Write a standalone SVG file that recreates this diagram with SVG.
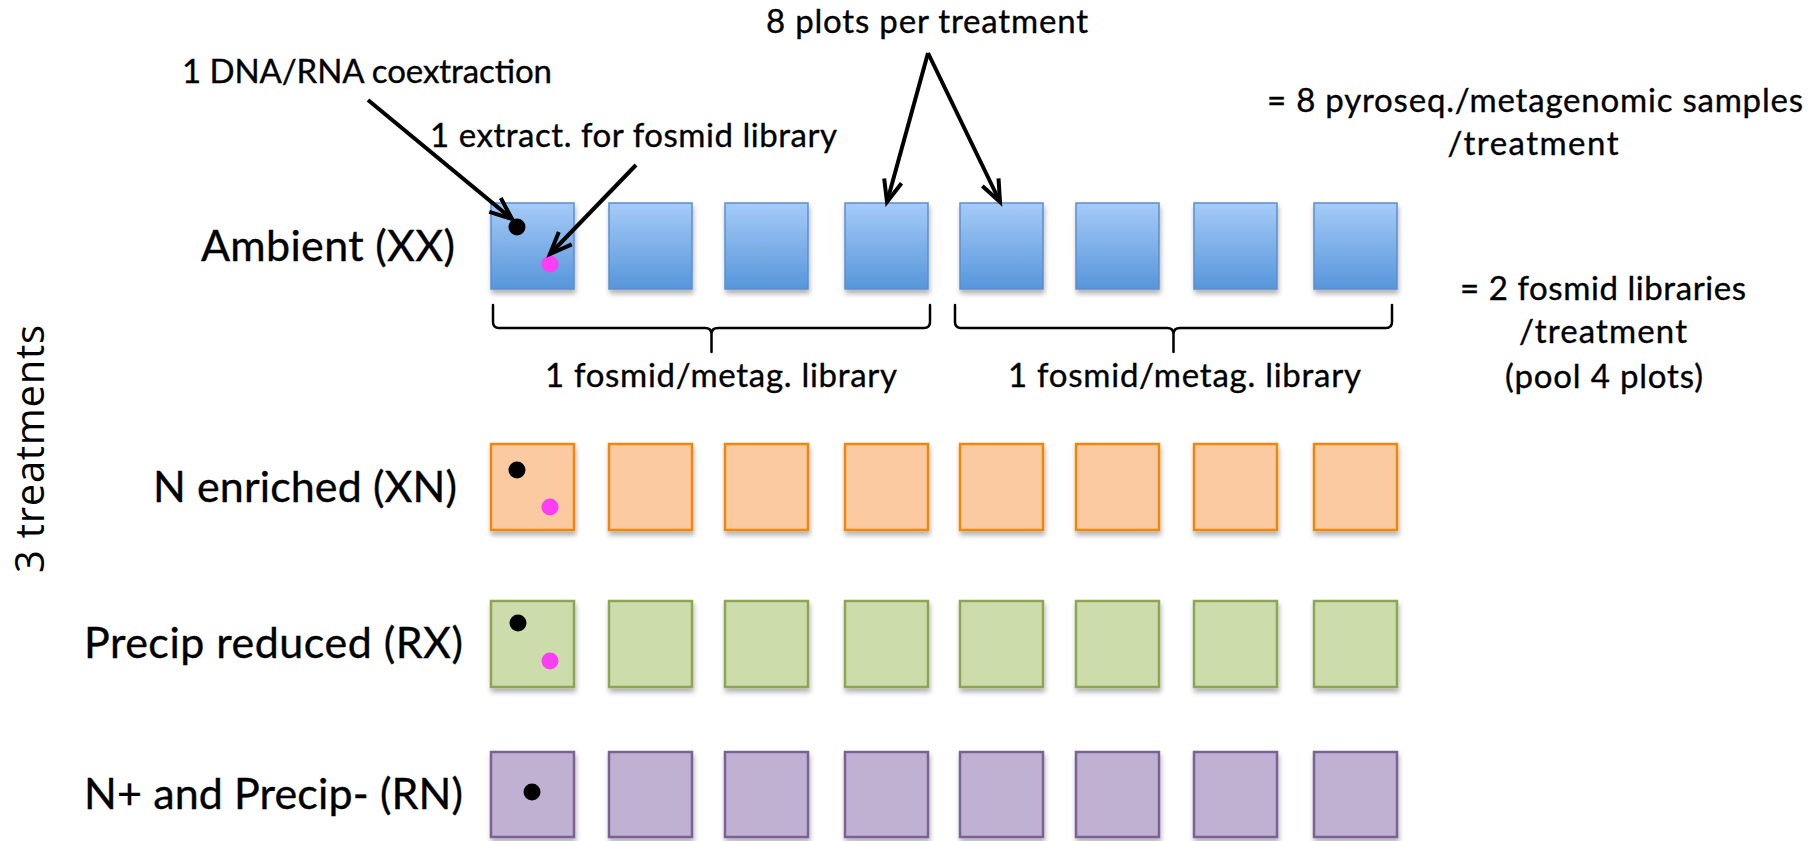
<svg xmlns="http://www.w3.org/2000/svg" width="1816" height="841" viewBox="0 0 1816 841">
<defs>
<style>
text{font-family:Lato,"Liberation Sans",sans-serif;fill:#000;stroke:#000;stroke-width:0.35}
.ann{font-size:33px}
.row{font-size:43px}
.side{font-family:"Open Sans","Liberation Sans",sans-serif;font-size:40px;stroke-width:0}
.box{filter:url(#sh)}
.amb{fill:url(#gb);stroke:#5b8ed0;stroke-width:1.5}
.xn{fill:#fbcaa0;stroke:#f0860e;stroke-width:2.5}
.rx{fill:#cddcab;stroke:#8ca654;stroke-width:2.5}
.rn{fill:#c0b0d2;stroke:#7a6295;stroke-width:2.5}
.arr{fill:none;stroke:#000;stroke-width:4;marker-end:url(#ah)}
.brace{fill:none;stroke:#000;stroke-width:2.5;stroke-linecap:round}
.bd{fill:#000}
.pd{fill:#fd3ff3}
</style>
<linearGradient id="gb" x1="0" y1="0" x2="0" y2="1">
<stop offset="0" stop-color="#a6cbf8"/>
<stop offset="1" stop-color="#5696da"/>
</linearGradient>
<filter id="sh" x="-20%" y="-20%" width="140%" height="150%">
<feDropShadow dx="1" dy="4" stdDeviation="2.5" flood-color="#000" flood-opacity="0.3"/>
</filter>
<marker id="ah" markerUnits="userSpaceOnUse" viewBox="-28 -14 32 28" refX="0" refY="0" markerWidth="32" markerHeight="28" orient="auto" overflow="visible">
<path d="M-22,-9 L0,0 L-22,9" fill="none" stroke="#000" stroke-width="4" stroke-linejoin="miter"/>
</marker>
</defs>
<rect width="1816" height="841" fill="#fff"/>

<g id="label-side">
<text class="side" transform="translate(44,449) rotate(-90)" text-anchor="middle" textLength="248">3 treatments</text>
</g>

<g id="row-labels">
<text class="row" x="201" y="261" textLength="254">Ambient (XX)</text>
<text class="row" x="153" y="502" textLength="304">N enriched (XN)</text>
<text class="row" x="84" y="658" textLength="379">Precip reduced (RX)</text>
<text class="row" x="84" y="809" textLength="379">N+ and Precip- (RN)</text>
</g>

<g id="row-ambient">
<rect class="box amb" x="491" y="203" width="83" height="86"/>
<rect class="box amb" x="609" y="203" width="83" height="86"/>
<rect class="box amb" x="725" y="203" width="83" height="86"/>
<rect class="box amb" x="845" y="203" width="83" height="86"/>
<rect class="box amb" x="960" y="203" width="83" height="86"/>
<rect class="box amb" x="1076" y="203" width="83" height="86"/>
<rect class="box amb" x="1194" y="203" width="83" height="86"/>
<rect class="box amb" x="1314" y="203" width="83" height="86"/>
<circle class="bd" cx="517" cy="227" r="8.5"/>
<circle class="pd" cx="550" cy="264" r="8.5"/>
</g>

<g id="row-xn">
<rect class="box xn" x="491" y="444" width="83" height="86"/>
<rect class="box xn" x="609" y="444" width="83" height="86"/>
<rect class="box xn" x="725" y="444" width="83" height="86"/>
<rect class="box xn" x="845" y="444" width="83" height="86"/>
<rect class="box xn" x="960" y="444" width="83" height="86"/>
<rect class="box xn" x="1076" y="444" width="83" height="86"/>
<rect class="box xn" x="1194" y="444" width="83" height="86"/>
<rect class="box xn" x="1314" y="444" width="83" height="86"/>
<circle class="bd" cx="517" cy="470" r="8.5"/>
<circle class="pd" cx="550" cy="507" r="8.5"/>
</g>

<g id="row-rx">
<rect class="box rx" x="491" y="601" width="83" height="86"/>
<rect class="box rx" x="609" y="601" width="83" height="86"/>
<rect class="box rx" x="725" y="601" width="83" height="86"/>
<rect class="box rx" x="845" y="601" width="83" height="86"/>
<rect class="box rx" x="960" y="601" width="83" height="86"/>
<rect class="box rx" x="1076" y="601" width="83" height="86"/>
<rect class="box rx" x="1194" y="601" width="83" height="86"/>
<rect class="box rx" x="1314" y="601" width="83" height="86"/>
<circle class="bd" cx="518" cy="623" r="8.5"/>
<circle class="pd" cx="550" cy="661" r="8.5"/>
</g>

<g id="row-rn">
<rect class="box rn" x="491" y="752" width="83" height="85"/>
<rect class="box rn" x="609" y="752" width="83" height="85"/>
<rect class="box rn" x="725" y="752" width="83" height="85"/>
<rect class="box rn" x="845" y="752" width="83" height="85"/>
<rect class="box rn" x="960" y="752" width="83" height="85"/>
<rect class="box rn" x="1076" y="752" width="83" height="85"/>
<rect class="box rn" x="1194" y="752" width="83" height="85"/>
<rect class="box rn" x="1314" y="752" width="83" height="85"/>
<circle class="bd" cx="532" cy="792" r="8.5"/>
</g>

<g id="annotations">
<text class="ann" x="766" y="33" textLength="322">8 plots per treatment</text>
<text class="ann" x="182" y="83" textLength="370">1 DNA/RNA coextraction</text>
<text class="ann" x="430" y="147" textLength="407">1 extract. for fosmid library</text>
<text class="ann" x="1535" y="112" text-anchor="middle" textLength="536">= 8 pyroseq./metagenomic samples</text>
<text class="ann" x="1533" y="155" text-anchor="middle" textLength="171">/treatment</text>
<text class="ann" x="1603" y="300" text-anchor="middle" textLength="286">= 2 fosmid libraries</text>
<text class="ann" x="1603" y="343" text-anchor="middle" textLength="168">/treatment</text>
<text class="ann" x="1604" y="388" text-anchor="middle" textLength="198">(pool 4 plots)</text>
<text class="ann" x="545" y="387" textLength="352">1 fosmid/metag. library</text>
<text class="ann" x="1008" y="387" textLength="353">1 fosmid/metag. library</text>
</g>

<g id="connectors">
<path class="arr" d="M368,100 L512,219"/>
<path class="arr" d="M636,165 L550,254"/>
<path class="arr" d="M928,53 L887,202"/>
<path class="arr" d="M928,53 L1000,202"/>
<path class="brace" d="M493,305 V322 Q493,328 499,328 H705 Q711.5,328 711.5,334 V352 M711.5,334 Q711.5,328 718,328 H924 Q930,328 930,322 V305"/>
<path class="brace" d="M955,305 V322 Q955,328 961,328 H1167 Q1173.5,328 1173.5,334 V352 M1173.5,334 Q1173.5,328 1180,328 H1386 Q1392,328 1392,322 V305"/>
</g>
</svg>
